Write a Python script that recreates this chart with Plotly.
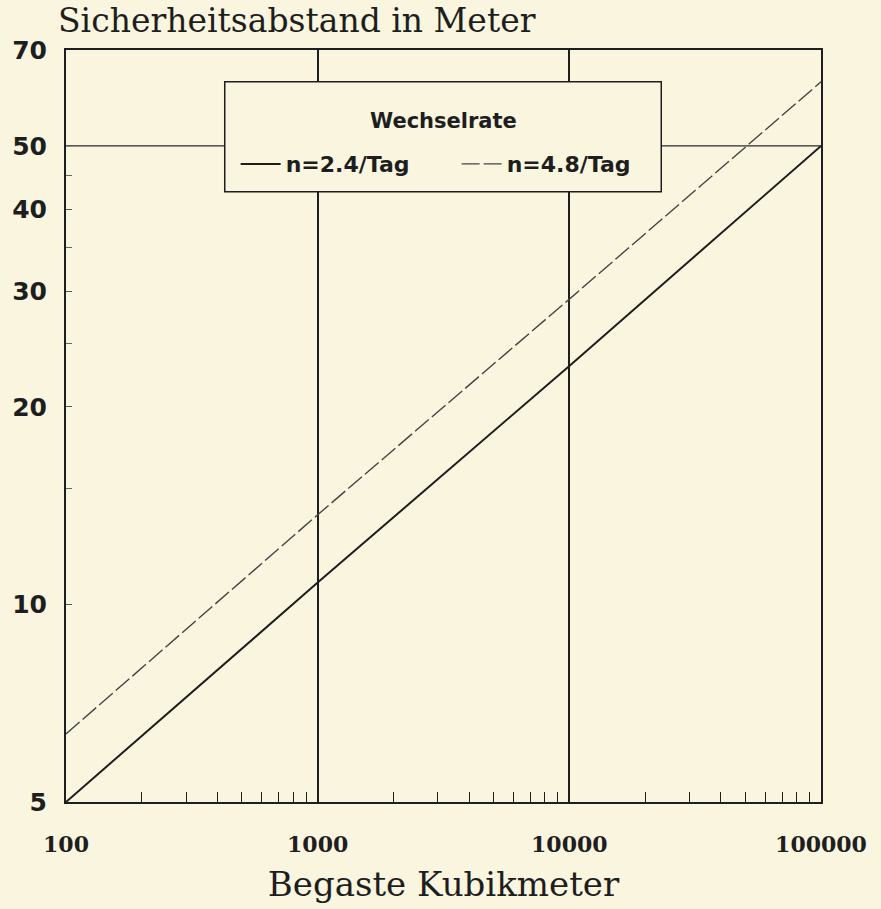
import plotly.graph_objects as go

# ---- data ----
volumes = [100, 1000, 10000, 100000]            # Begaste Kubikmeter
abstand_n24 = [5.0, 10.8, 23.1, 50.0]          # n=2.4/Tag
abstand_n48 = [6.35, 13.7, 29.2, 62.6]         # n=4.8/Tag
series_names = ["n=2.4/Tag", "n=4.8/Tag"]
legend_title = "Wechselrate"

x_ticks = [100, 1000, 10000, 100000]
x_ticklabels = ["100", "1000", "10000", "100000"]
x_minor = [m * d for d in (100, 1000, 10000) for m in range(2, 10)]
y_ticks = [5, 10, 20, 30, 40, 50, 70]
y_ticklabels = ["5", "10", "20", "30", "40", "50", "70"]
y_minor = [15, 25, 35, 45]

BG = "#f9f5df"
INK = "#1e1e1e"

fig = go.Figure()
fig.add_trace(go.Scatter(
    x=volumes, y=abstand_n24, mode="lines", name=series_names[0],
    line=dict(color=INK, width=2)))
fig.add_trace(go.Scatter(
    x=volumes, y=abstand_n48, mode="lines", name=series_names[1],
    line=dict(color="#444444", width=1.4, dash="18px,4px")))

# horizontal reference line at 50 m
fig.add_shape(type="line", xref="paper", yref="y", x0=0, x1=1, y0=50, y1=50,
              line=dict(color="#2a2a2a", width=1.2), layer="below")

# legend box (covers the grid lines behind it)
L, R, T, B = 60, 821, 50, 808
def px2paper_x(p):
    return (p - L) / (R - L)
def px2paper_y(p):
    return (B - p) / (B - T)
fig.add_shape(type="rect", xref="paper", yref="paper",
              x0=px2paper_x(220), x1=px2paper_x(660),
              y0=px2paper_y(193), y1=px2paper_y(82),
              fillcolor=BG, line=dict(color=INK, width=1.5), layer="above")

# legend heading inside the box
fig.add_annotation(
    text=legend_title, xref="paper", yref="paper",
    x=px2paper_x(441), y=px2paper_y(122), xanchor="center", yanchor="middle",
    showarrow=False,
    font=dict(family="DejaVu Sans", size=21, color=INK, weight="bold"))

fig.update_layout(
    width=881, height=909,
    paper_bgcolor=BG, plot_bgcolor=BG,
    margin=dict(l=L, r=881 - R, t=T, b=909 - B, pad=0),
    showlegend=True,
    legend=dict(
        orientation="h",
        x=px2paper_x(231), y=px2paper_y(165),
        xanchor="left", yanchor="middle",
        bgcolor="rgba(0,0,0,0)", borderwidth=0,
        font=dict(family="DejaVu Sans", size=22, color=INK, weight="bold"),
        entrywidth=166, entrywidthmode="pixels",
        itemwidth=40,
    ),
    title=dict(
        text="Sicherheitsabstand in Meter",
        x=58 / 881, xref="container", xanchor="left",
        y=1 - 20 / 909, yref="container", yanchor="middle",
        font=dict(family="DejaVu Serif", size=33, color=INK),
    ),
    xaxis=dict(
        type="log", range=[2, 5],
        tickmode="array", tickvals=x_ticks, ticktext=x_ticklabels,
        ticks="inside", ticklen=12, tickwidth=1.5, tickcolor=INK,
        ticklabelstandoff=22,
        tickfont=dict(family="DejaVu Serif", size=22, color=INK, weight="bold"),
        showgrid=True, gridcolor=INK, gridwidth=1.8,
        showline=True, linecolor=INK, linewidth=2, mirror=True,
        zeroline=False,
        minor=dict(tickmode="array", tickvals=x_minor, ticks="inside",
                   ticklen=10, tickwidth=1.2, tickcolor=INK, showgrid=False),
        title=dict(text="Begaste Kubikmeter", standoff=16,
                   font=dict(family="DejaVu Serif", size=34, color=INK)),
    ),
    yaxis=dict(
        type="log", range=[0.69897, 1.845098],
        tickmode="array", tickvals=y_ticks, ticktext=y_ticklabels,
        ticks="inside", ticklen=6, tickwidth=1.2, tickcolor="#555555",
        ticklabelstandoff=12,
        tickfont=dict(family="DejaVu Sans", size=25, color=INK, weight="bold"),
        showgrid=False,
        showline=True, linecolor=INK, linewidth=2, mirror=True,
        zeroline=False,
        minor=dict(tickmode="array", tickvals=y_minor, ticks="inside",
                   ticklen=6, tickwidth=1, tickcolor="#666666", showgrid=False),
    ),
)

fig.write_html(
    "out.html",
    config={"displayModeBar": False},
    post_script="document.body.style.margin='0';"
                "document.body.style.background='#f9f5df';"
                "document.body.style.overflow='hidden';",
)
